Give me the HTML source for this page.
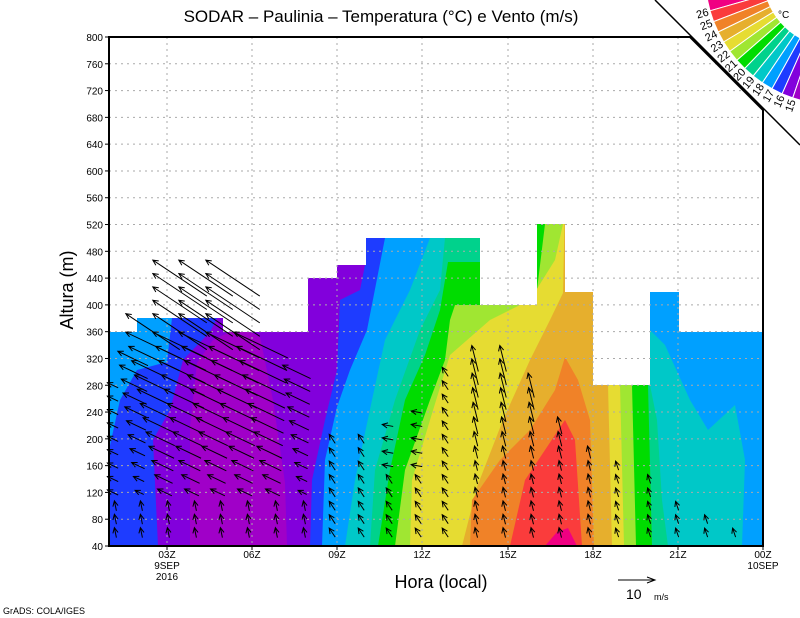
<!DOCTYPE html>
<html><head><meta charset="utf-8"><style>
body{margin:0;background:#fff;}
svg{display:block;font-family:"Liberation Sans",sans-serif;}
</style></head><body>
<svg id="s" width="800" height="618" viewBox="0 0 800 618" xmlns="http://www.w3.org/2000/svg">
<rect width="800" height="618" fill="#fff"/>
<g id="fill">
<rect x="109" y="200" width="654" height="346" fill="#00a0ff"/>
<polygon fill="#1e3cff" points="109,546 109,450 120,400 137,370 167,362 172,318 172,200 385,200 385,238 367,330 350,370 337,407 325,460 322,546"/>
<polygon fill="#8200dc" points="158,546 153,440 170,410 183,360 210,332 217,318 217,200 365,200 365,265 360,290 340,300 337,370 325,420 312,480 310,546"/>
<polygon fill="#a000c8" points="190,546 190,427 197,363 213,340 240,327 260,337 273,400 285,483 287,546"/>
<polygon fill="#00c8c8" points="345,546 355,480 372,400 385,340 410,290 430,238 430,200 650,200 650,330 665,345 690,400 708,430 735,405 745,460 742,546"/>
<polygon fill="#00d28c" points="370,546 375,470 395,400 420,330 440,290 445,238 445,200 650,200 650,385 657,420 662,500 668,546"/>
<polygon fill="#00dc00" points="378,546 390,470 405,400 425,355 440,310 448,262 480,262 480,200 645,200 648,385 652,546"/>
<polygon fill="#a0e632" points="395,546 405,470 430,400 445,360 450,320 455,305 480,305 537,290 545,224 545,200 630,200 632,385 636,546"/>
<polygon fill="#e6dc32" points="410,546 412,480 430,420 450,355 490,320 530,300 555,260 563,224 563,200 618,200 620,385 624,546"/>
<polygon fill="#e6af2d" points="462,546 477,487 503,420 530,360 550,320 563,293 565,200 606,200 608,385 612,546"/>
<polygon fill="#f08228" points="470,546 472,500 500,460 530,430 555,390 565,357 578,380 590,420 594,546"/>
<polygon fill="#fa3c3c" points="510,546 525,480 545,450 565,420 575,440 582,546"/>
<polygon fill="#f00082" points="545,546 557,532 568,528 577,546"/>
</g>
<polygon fill="#fff" points="100,0 100,332 137,332 137,318 223,318 223,332 308,332 308,278 337,278 337,265 366,265 366,238 480,238 480,305 537,305 537,224 565,224 565,292 593,292 593,385 650,385 650,292 679,292 679,332 770,332 770,0"/>
<g id="grid" stroke="#aaa" stroke-width="1" stroke-dasharray="2,4"></g>
<g id="arr" stroke="#000" stroke-width="1" fill="none"></g>
<polygon points="109,37 690,37 763,110 763,546 109,546" fill="none" stroke="#000" stroke-width="2"/>
<line x1="655" y1="0" x2="800" y2="145" stroke="#000" stroke-width="1.5"/>
<g id="ticks" stroke="#000" stroke-width="1"></g>
<g id="ylab" font-size="10" text-anchor="end" fill="#000"></g>
<g font-size="10" text-anchor="middle" fill="#000">
<text x="167" y="558">03Z</text><text x="167" y="569">9SEP</text><text x="167" y="580">2016</text>
<text x="252" y="558">06Z</text><text x="337" y="558">09Z</text><text x="422" y="558">12Z</text>
<text x="508" y="558">15Z</text><text x="593" y="558">18Z</text><text x="678" y="558">21Z</text>
<text x="763" y="558">00Z</text><text x="763" y="569">10SEP</text>
</g>
<text x="381" y="22" font-size="17" text-anchor="middle">SODAR – Paulinia – Temperatura (°C) e Vento (m/s)</text>
<text x="441" y="588" font-size="18" text-anchor="middle">Hora (local)</text>
<text transform="translate(73,290) rotate(-90)" font-size="18" text-anchor="middle">Altura (m)</text>
<line x1="618" y1="580" x2="654" y2="580" stroke="#000"/>
<polyline points="647,577 655,580 647,583" fill="none" stroke="#000"/>
<text x="626" y="599" font-size="14">10</text><text x="654" y="600" font-size="9">m/s</text>
<text x="3" y="614" font-size="9">GrADS: COLA/IGES</text>
<g id="cb"></g>
<text x="778" y="18" font-size="10">°C</text>
</svg>
<script>
var NS="http://www.w3.org/2000/svg";
function el(p,t,a,txt){var e=document.createElementNS(NS,t);for(var k in a)e.setAttribute(k,a[k]);if(txt)e.textContent=txt;document.getElementById(p).appendChild(e);return e;}
function Y(m){return 546-(m-40)*26.79/40;}
for(var m=80;m<=760;m+=40){el("grid","line",{x1:109,x2:(Y(m)<110?Y(m)+653:763),y1:Y(m),y2:Y(m)});}
var xs=[167,252,337,422,508,593,678];
xs.forEach(function(x){el("grid","line",{x1:x,x2:x,y1:37,y2:546});el("ticks","line",{x1:x,x2:x,y1:546,y2:550});});
for(var m=40;m<=800;m+=40){el("ticks","line",{x1:105,x2:109,y1:Y(m),y2:Y(m)});el("ylab","text",{x:103,y:Y(m)+4},String(m));}
el("ticks","line",{x1:763,x2:763,y1:546,y2:550});
function arrow(x,y,dx,dy){var x1=x-dx/2,y1=y-dy/2,x2=x+dx/2,y2=y+dy/2;
var L=Math.sqrt(dx*dx+dy*dy);if(L<1)return;var ux=dx/L,uy=dy/L,h=Math.min(6,L*0.6);
var c=Math.cos(0.45),s=Math.sin(0.45);
var ax=x2-h*(ux*c-uy*s),ay=y2-h*(uy*c+ux*s),bx=x2-h*(ux*c+uy*s),by=y2-h*(uy*c-ux*s);
el("arr","path",{d:"M"+x1+" "+y1+"L"+x2+" "+y2+"M"+ax+" "+ay+"L"+x2+" "+y2+"L"+bx+" "+by});}
var colsA=[[116,290],[142,330],[169,360],[196,440],[222,440],[249,440],[277,340],[305,300],[334,200],[363,200],[391,220],[420,250],[447,300],[477,330],[505,330],[533,280],[561,230],[590,180],[618,160],[650,140],[678,100],[707,80],[735,60]];
colsA.forEach(function(c){var x=c[0];for(var m=60;m<=c[1];m+=20){var y=Y(m),dx,dy,L;
if(x<320){if(m<110){dx=-2;dy=-10;}else{L=Math.min(60,14+(m-110)*0.2);if(x<130)L=12;else if(x<150||x>300)L*=0.6;
 var sl=m>340?0.6:0.43;dx=-0.9*L;dy=-sl*L;}}
else if(x<460){if(m>140&&m<260&&x>370&&x<430){dx=-11;dy=-2;}else{dx=-6;dy=-9;}}
else if(x<600){L=m<160?10:Math.min(26,10+(m-160)*0.12);dx=-0.25*L;dy=-L;}
else{dx=-3;dy=-9;}
arrow(x+dx*0.3,y,dx,dy);}});
var cols=["#f00082","#fa3c3c","#f08228","#e6af2d","#e6dc32","#a0e632","#00dc00","#00d28c","#00c8c8","#00a0ff","#1e3cff","#8200dc","#a000c8"];
var cx=835,cy=-25,ri=130,ro=72,a0=169,da=5;
function P(r,a){var t=a*Math.PI/180;return (cx+r*Math.cos(t)).toFixed(1)+","+(cy+r*Math.sin(t)).toFixed(1);}
cols.forEach(function(c,i){var a1=a0-i*da,a2=a1-da;
el("cb","polygon",{points:P(ri,a1)+" "+P(ro,a1)+" "+P(ro,a2)+" "+P(ri,a2),fill:c,stroke:"#fff","stroke-width":1});
if(i<12){var t=a2*Math.PI/180,lx=cx+(ri+8)*Math.cos(t),ly=cy+(ri+8)*Math.sin(t);
el("cb","text",{x:lx,y:ly,"font-size":"11","text-anchor":"middle",transform:"rotate("+(a2-180)+" "+lx+" "+ly+")",dy:"4"},String(26-i));}});
</script>
</body></html>
